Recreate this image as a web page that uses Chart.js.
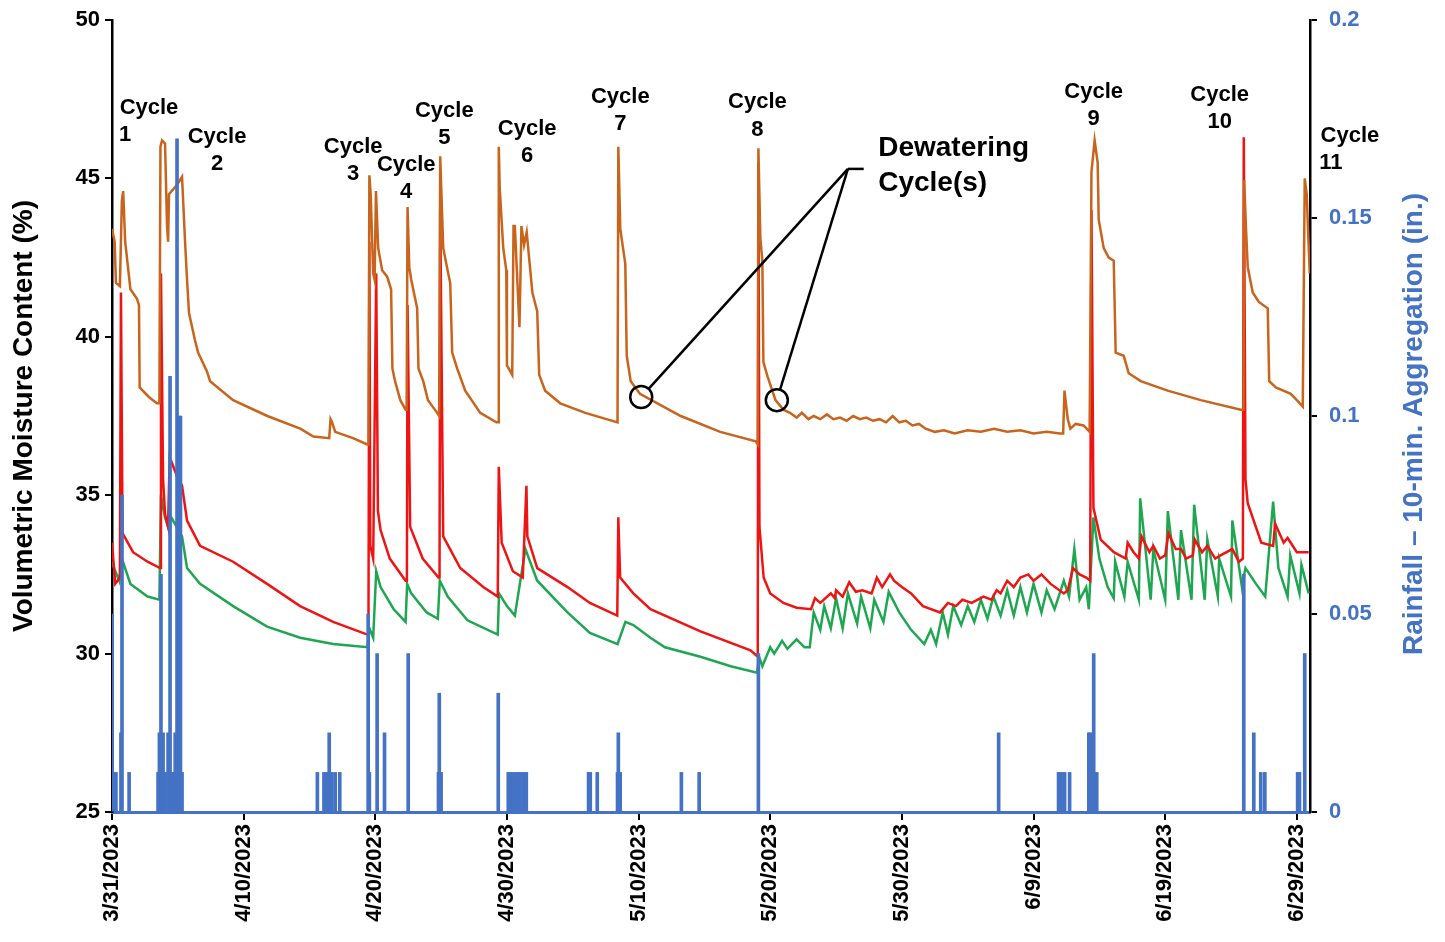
<!DOCTYPE html>
<html>
<head>
<meta charset="utf-8">
<script src="https://cdn.jsdelivr.net/npm/chart.js@4"></script>
<style>
  html, body { margin: 0; padding: 0; background: #fff; }
  #wrap { width: 1445px; height: 942px; }
</style>
</head>
<body>
<div id="wrap"><canvas id="chart" width="1445" height="942"></canvas></div>
<script>
// x values are days after 3/31/2023
const tickDays = [0, 10, 20, 30, 40, 50, 60, 70, 80, 90];
const tickLabels = ['3/31/2023', '4/10/2023', '4/20/2023', '4/30/2023', '5/10/2023',
  '5/20/2023', '5/30/2023', '6/9/2023', '6/19/2023', '6/29/2023'];
const rainTicks = [0, 0.05, 0.1, 0.15, 0.2];
const rainTickLabels = ['0', '0.05', '0.1', '0.15', '0.2'];

// orange sensor (upper)
const orangeDays = [0, 0.2, 0.3, 0.6, 0.75, 0.85, 1.0, 1.4, 1.9, 2.05, 2.1, 2.8, 3.4, 3.6,
  3.68, 3.8, 4.03, 4.18, 4.26, 4.33, 4.94, 5.32, 5.55, 5.7, 5.85, 6.3, 6.54, 7.22, 7.45, 9.2,
  11.8, 14.3, 15.3, 16.5, 16.6, 16.72, 16.95, 18.3, 19.4,
  19.48, 19.55, 19.65, 19.84, 19.95, 20.05, 20.22, 20.52, 20.9, 21.2, 21.3, 21.5, 21.9, 22.3,
  22.38, 22.45, 22.58, 22.73, 23.18, 23.28, 23.64, 24.0, 24.7,
  24.85, 24.93, 25.16, 25.54, 25.69, 25.84, 26.22, 26.83, 27.97, 29.2,
  29.33, 29.38, 29.45, 29.72, 29.95, 30.0, 30.4, 30.5, 30.6, 30.95, 31.1, 31.3, 31.5, 31.93,
  32.3, 32.45, 32.9, 34.05, 35.95, 38.4,
  38.46, 38.61, 38.99, 39.1, 39.4, 40.1, 43.2, 46.2, 48.9, 49.05,
  49.1, 49.25, 49.4, 49.48, 49.79, 50.4, 51.0, 51.5, 52.0, 52.4, 52.9, 53.3, 53.8, 54.3, 54.8,
  55.3, 55.8, 56.3, 56.8, 57.3, 57.8, 58.3, 58.8, 59.3, 59.8, 60.3, 60.8, 61.3, 61.8, 62.5,
  63.2, 64.0, 65.0, 66.0, 67.0, 68.0, 69.0, 70.0, 71.0, 72.0, 72.25, 72.35, 72.6, 72.8, 73.2,
  73.8, 74.26,
  74.4, 74.64, 74.87, 74.95, 75.33, 75.71, 76.09, 76.24, 76.85, 77.23, 78.14, 80.19, 82.7, 85.74,
  85.95, 86.0, 86.12, 86.27, 86.65, 87.11, 87.79, 87.9, 88.4, 89.54, 90.0, 90.45, 90.6, 90.75, 90.98];
const orangeVals = [43.4, 43.0, 41.7, 41.6, 44.3, 44.6, 43.0, 41.5, 41.2, 41.0, 38.4, 38.1, 37.9, 37.9,
  46.0, 46.2, 46.1, 43.5, 43.0, 44.5, 44.8, 45.05, 43.0, 41.8, 40.75, 39.9, 39.5, 38.9, 38.6, 38.0,
  37.5, 37.1, 36.85, 36.8, 37.4, 37.3, 37.0, 36.8, 36.6,
  36.6, 45.1, 44.5, 42.0, 41.8, 44.6, 42.8, 42.1, 41.9, 41.5, 39.0, 38.6, 38.0, 37.7,
  37.7, 44.1, 42.2, 41.8, 40.9, 39.0, 38.6, 38.0, 37.6,
  37.5, 45.7, 42.8, 42.0, 41.7, 39.5, 39.0, 38.3, 37.6, 37.3,
  37.3, 46.0, 44.7, 42.8, 42.1, 39.1, 38.8, 43.5, 43.5, 40.3, 43.5, 42.9, 43.3, 41.4,
  40.8, 38.8, 38.3, 37.9, 37.6, 37.3,
  46.0, 43.4, 42.3, 39.4, 38.6, 38.2, 37.5, 37.0, 36.7, 36.6,
  45.95, 43.1, 42.4, 39.2, 38.75, 38.0, 37.7, 37.6, 37.45, 37.6, 37.4, 37.5, 37.4, 37.55, 37.4,
  37.45, 37.35, 37.5, 37.4, 37.45, 37.35, 37.4, 37.3, 37.5, 37.3, 37.35, 37.2, 37.25, 37.1, 37.0,
  37.05, 36.95, 37.05, 37.0, 37.1, 37.0, 37.05, 36.95, 37.0, 36.95, 36.95, 38.3, 37.4, 37.1, 37.25,
  37.2, 37.0,
  45.2, 46.2, 45.5, 43.7, 42.8, 42.5, 42.4, 39.5, 39.4, 38.85, 38.6, 38.3, 38.0, 37.7,
  37.7, 44.95, 43.6, 42.2, 41.4, 41.1, 40.9, 38.6, 38.4, 38.2, 38.0, 37.8, 45.0, 44.5, 42.0];

// red sensor (middle)
const redDays = [0, 0.25, 0.6, 0.68, 0.8, 1.6, 2.7, 3.65, 3.72, 3.88, 4.03, 4.26, 4.38, 4.94, 5.32,
  5.7, 6.69, 9.2, 11.78, 14.29, 16.8, 19.4,
  19.48, 19.55, 19.62, 19.84, 20.07, 20.2, 20.4, 21.1, 22.3, 22.4, 22.45, 22.65, 23.6, 24.8,
  24.88, 24.93, 25.16, 26.45, 28.2, 29.3, 29.38, 29.6, 30.45, 31.2, 31.48, 31.55, 32.3, 34.6,
  36.3, 38.38, 38.46, 38.6, 39.6, 40.9, 44.7, 48.5, 49.05,
  49.1, 49.18, 49.5, 50.0, 51.0, 52.0, 53.1, 53.4, 53.8, 54.6, 54.9, 55.0, 55.5, 56.0, 56.5,
  57.0, 57.7, 58.1, 58.5, 59.1, 59.4, 60.0, 60.7, 61.6, 62.9, 63.5, 64.1, 64.6, 65.3, 66.2,
  66.8, 67.2, 67.5, 68.0, 68.5, 69.0, 69.6, 70.0, 70.6, 71.3, 72.3, 72.6, 73.0, 73.5, 74.0, 74.3,
  74.4, 74.55, 75.1, 76.1, 77.0, 77.15, 77.6, 78.0, 78.2, 78.8, 79.1, 79.6, 80.0, 80.25, 80.8,
  81.2, 81.6, 82.1, 82.25, 82.8, 83.2, 83.8, 84.2, 85.1, 85.6, 85.9,
  85.97, 86.1, 86.27, 87.3, 88.2, 88.35, 89.0, 89.3, 90.0, 90.9];
const redVals = [33.5, 32.2, 32.4, 41.4, 33.8, 33.2, 32.9, 32.7, 42.0, 35.5, 34.4, 34.0, 36.2, 35.6, 35.3,
  34.2, 33.4, 32.9, 32.2, 31.5, 31.0, 30.6,
  30.6, 43.0, 33.4, 33.0, 42.0, 34.5, 33.9, 33.0, 32.3, 32.3, 41.0, 34.0, 33.0, 32.4,
  32.4, 44.0, 33.7, 32.7, 32.1, 31.8, 35.9, 33.5, 32.6, 32.4, 35.3, 33.7, 32.7, 32.1,
  31.6, 31.2, 34.3, 32.4, 31.9, 31.4, 30.7, 30.1, 29.9,
  45.5, 34.0, 32.4, 31.9, 31.6, 31.45, 31.4, 31.75, 31.6, 31.9, 31.75, 32.0, 31.8, 32.25, 31.95,
  32.0, 31.9, 32.4, 32.1, 32.5, 32.3, 32.1, 31.9, 31.5, 31.3, 31.6, 31.5, 31.7, 31.6, 31.8,
  31.7, 32.0, 31.9, 32.3, 32.1, 32.4, 32.5, 32.3, 32.5, 32.2, 31.9, 32.0, 32.7, 32.5, 32.4, 32.3,
  44.0, 34.6, 33.6, 33.2, 33.0, 33.5, 33.2, 33.0, 33.7, 33.2, 33.4, 33.0, 33.1, 33.8, 33.3,
  33.3, 33.0, 33.1, 33.6, 33.2, 33.4, 33.0, 33.1, 33.3, 32.9, 33.0,
  46.3, 35.5, 34.75, 33.5, 33.4, 34.1, 33.5, 33.65, 33.2, 33.2];

// green sensor (lower)
const greenDays = [0, 0.15, 0.55, 0.75, 1.4, 2.7, 3.6, 3.72, 3.88, 4.03, 4.26, 4.5, 5.32, 5.7, 6.69,
  9.2, 11.78, 14.29, 16.8, 19.4, 19.55, 19.84, 20.07, 20.4, 21.4, 22.3, 22.42, 22.73, 23.9, 24.75,
  24.9, 25.5, 27.0, 29.3, 29.4, 30.0, 30.6, 31.4, 32.3, 34.6, 36.3, 38.4, 39.0, 39.6, 40.9, 42.0,
  44.7, 47.0, 49.0,
  49.15, 49.4, 50.0, 50.3, 50.9, 51.3, 52.0, 52.6, 53.0, 53.3, 53.8, 54.1, 54.6, 55.0, 55.5,
  55.9, 56.6, 56.9, 57.6, 57.9, 58.6, 59.0, 59.8, 60.7, 61.7, 62.2, 62.6, 63.1, 63.5, 63.9, 64.5,
  65.0, 65.5, 66.0, 66.5, 66.95, 67.5, 68.0, 68.5, 69.0, 69.5, 70.0, 70.6, 71.0, 71.6, 72.3,
  72.7, 73.1, 73.5, 74.0, 74.2,
  74.55, 75.0, 75.63, 76.09, 76.2, 76.9, 77.15, 78.0, 78.1, 78.9, 79.1, 80.0, 80.2, 81.0, 81.2,
  82.0, 82.2, 83.0, 83.2, 84.0, 84.1, 85.0, 85.1, 85.9, 86.0, 86.1, 86.9, 87.6, 88.2, 88.6, 89.3,
  89.5, 90.2, 90.35, 90.9];
const greenVals = [32.9, 32.7, 32.3, 33.0, 32.2, 31.8, 31.7, 35.0, 34.6, 34.3, 34.0, 34.3, 33.7, 32.7, 32.2,
  31.5, 30.85, 30.5, 30.3, 30.2, 30.8, 30.5, 32.6, 32.1, 31.4, 31.0, 32.2, 31.9, 31.3, 31.1,
  32.3, 31.8, 31.05, 30.6, 31.9, 31.5, 31.2, 33.3, 32.3, 31.3, 30.65, 30.3, 31.0, 30.9, 30.5, 30.2,
  29.9, 29.6, 29.4,
  29.9, 29.6, 30.2, 30.0, 30.4, 30.15, 30.45, 30.2, 30.2, 31.3, 30.75, 31.5, 30.8, 31.75, 30.8,
  31.9, 30.95, 31.8, 30.8, 31.7, 31.0, 31.95, 31.3, 30.75, 30.3, 30.75, 30.3, 31.3, 30.6, 31.5, 30.9,
  31.5, 31.0, 31.7, 31.1, 31.8, 31.2, 32.0, 31.2, 32.1, 31.3, 32.2, 31.3, 32.0, 31.4, 32.3,
  31.8, 33.3, 31.7, 32.1, 31.4,
  34.3, 33.0, 32.1, 31.75, 32.9, 31.8, 32.9, 31.7, 34.9, 31.7, 33.3, 31.7, 34.5, 31.7, 33.9,
  31.7, 34.7, 31.7, 33.6, 31.8, 33.0, 31.8, 34.2, 31.9, 32.5, 32.7, 32.2, 31.8, 34.8, 32.7, 31.8,
  33.1, 31.9, 32.8, 31.9];

// rainfall, 10-min aggregation (in.)
const rainDays = [0.0, 0.15, 0.3, 0.68, 0.76, 1.3, 3.5, 3.6, 3.72, 3.88, 4.03, 4.26, 4.41, 4.56, 4.7,
  4.8, 4.94, 5.1, 5.2, 5.32, 15.6, 16.1, 16.3, 16.5, 16.7, 16.95, 17.3, 19.46, 19.55, 20.14, 20.7,
  22.5, 24.8, 24.86, 25.0, 29.34, 30.1, 30.3, 30.48, 30.7, 30.86, 31.0, 31.24, 31.47, 36.2, 36.33,
  36.86, 38.4, 38.46, 38.6, 43.25, 44.6, 49.1, 67.35, 71.9, 72.13, 72.36, 72.74, 74.2, 74.3, 74.57,
  74.8, 85.97, 86.73, 87.26, 87.57, 90.06, 90.2, 90.6];
const rainVals = [0.05, 0.01, 0.01, 0.02, 0.08, 0.01, 0.01, 0.02, 0.06, 0.02, 0.01, 0.02, 0.11, 0.01, 0.01,
  0.02, 0.17, 0.1, 0.1, 0.01, 0.01, 0.01, 0.01, 0.02, 0.01, 0.01, 0.01, 0.05, 0.01, 0.04, 0.02,
  0.04, 0.01, 0.03, 0.01, 0.03, 0.01, 0.01, 0.01, 0.01, 0.01, 0.01, 0.01, 0.01, 0.01, 0.01,
  0.01, 0.01, 0.02, 0.01, 0.01, 0.01, 0.04, 0.02, 0.01, 0.01, 0.01, 0.01, 0.02, 0.02, 0.04,
  0.01, 0.06, 0.02, 0.01, 0.01, 0.01, 0.01, 0.04];

// cycle labels: "Cycle" centre and number centre, in data units
const cycleNames = ['1', '2', '3', '4', '5', '6', '7', '8', '9', '10', '11'];
const cycleDays = [2.81, 7.98, 18.32, 22.35, 25.24, 31.54, 38.61, 49.03, 74.57, 84.14, 94.03];
const cycleVals = [47.22, 46.31, 45.99, 45.42, 47.13, 46.56, 47.57, 47.41, 47.73, 47.63, 46.34];
const numDays = [0.99, 7.98, 18.32, 22.35, 25.24, 31.54, 38.61, 49.03, 74.57, 84.14, 92.58];
const numVals = [46.37, 45.45, 45.14, 44.57, 46.28, 45.71, 46.72, 46.53, 46.87, 46.78, 45.49];

// dewatering callout
const calloutCircles = [[40.2, 38.1], [50.5, 38.0]];
const calloutJoin = [55.9, 45.3];
const calloutEnd = 57.1;
const calloutText = ['Dewatering', 'Cycle(s)'];
const calloutTextAt = [58.2, 45.95, 44.85];

const FONT = '"Liberation Sans", Arial, sans-serif';
const BLUE = '#4472c4';

function pts(days, vals) {
  return days.map((d, i) => ({ x: d, y: vals[i] }));
}

// no extra label padding on the vertical axes, the layout padding sets the top
function noPad(s) {
  s.paddingTop = 0;
  s.paddingBottom = 0;
}

const annotate = {
  id: 'annotate',
  afterDatasetsDraw(chart) {
    const { ctx } = chart;
    const x = chart.scales.x, y = chart.scales.y;
    ctx.save();
    ctx.fillStyle = '#000';
    ctx.textAlign = 'center';
    ctx.textBaseline = 'middle';
    ctx.font = 'bold 22px ' + FONT;
    cycleNames.forEach((n, i) => {
      ctx.fillText('Cycle', x.getPixelForValue(cycleDays[i]), y.getPixelForValue(cycleVals[i]));
      ctx.fillText(n, x.getPixelForValue(numDays[i]), y.getPixelForValue(numVals[i]));
    });

    // callout
    const jx = x.getPixelForValue(calloutJoin[0]), jy = y.getPixelForValue(calloutJoin[1]);
    const r = 11;
    ctx.strokeStyle = '#000';
    ctx.lineWidth = 2.5;
    ctx.beginPath();
    ctx.moveTo(jx, jy);
    ctx.lineTo(x.getPixelForValue(calloutEnd), jy);
    ctx.stroke();
    calloutCircles.forEach(([d, v]) => {
      const cx = x.getPixelForValue(d), cy = y.getPixelForValue(v);
      const ang = Math.atan2(jy - cy, jx - cx);
      ctx.beginPath();
      ctx.moveTo(jx, jy);
      ctx.lineTo(cx + r * Math.cos(ang), cy + r * Math.sin(ang));
      ctx.stroke();
      ctx.beginPath();
      ctx.arc(cx, cy, r, 0, Math.PI * 2);
      ctx.stroke();
    });
    ctx.font = 'bold 28px ' + FONT;
    ctx.textAlign = 'left';
    const tx = x.getPixelForValue(calloutTextAt[0]);
    ctx.fillText(calloutText[0], tx, y.getPixelForValue(calloutTextAt[1]));
    ctx.fillText(calloutText[1], tx, y.getPixelForValue(calloutTextAt[2]));

    // axis titles, both read bottom to top
    const midY = (chart.chartArea.top + chart.chartArea.bottom) / 2;
    ctx.textAlign = 'center';
    ctx.save();
    ctx.translate(24, midY);
    ctx.rotate(-Math.PI / 2);
    ctx.fillStyle = '#000';
    ctx.fillText('Volumetric Moisture Content (%)', 0, 0);
    ctx.restore();
    ctx.save();
    ctx.translate(1414, midY + 8);
    ctx.rotate(-Math.PI / 2);
    ctx.fillStyle = BLUE;
    ctx.fillText('Rainfall \u2013 10-min. Aggregation (in.)', 0, 0);
    ctx.restore();
    ctx.restore();
  }
};

new Chart(document.getElementById('chart'), {
  type: 'line',
  data: {
    datasets: [
      {
        type: 'bar',
        label: 'Rainfall',
        data: pts(rainDays, rainVals),
        backgroundColor: BLUE,
        barThickness: 3,
        yAxisID: 'yR',
        order: 0
      },
      {
        label: 'Orange',
        data: pts(orangeDays, orangeVals),
        borderColor: '#c8641c',
        borderWidth: 2.5,
        yAxisID: 'y',
        order: 1
      },
      {
        label: 'Red',
        data: pts(redDays, redVals),
        borderColor: '#ee1414',
        borderWidth: 2.5,
        yAxisID: 'y',
        order: 2
      },
      {
        label: 'Green',
        data: pts(greenDays, greenVals),
        borderColor: '#1fa650',
        borderWidth: 2.5,
        yAxisID: 'y',
        order: 3
      }
    ]
  },
  options: {
    responsive: false,
    animation: false,
    devicePixelRatio: 1,
    layout: { padding: { top: 20, left: 0, right: 0, bottom: 0 } },
    elements: { point: { radius: 0 }, line: { tension: 0 } },
    plugins: { legend: { display: false }, tooltip: { enabled: false } },
    scales: {
      x: {
        type: 'linear',
        min: 0,
        max: 91,
        offset: false,
        afterBuildTicks: (s) => { s.ticks = tickDays.map((v) => ({ value: v })); },
        afterFit: (s) => { s.height = 130; s.paddingLeft = 0; s.paddingRight = 0; },
        ticks: {
          autoSkip: false,
          minRotation: 90,
          maxRotation: 90,
          padding: 4,
          color: '#000',
          font: { family: FONT, size: 22, weight: 'bold' },
          callback: (v, i) => tickLabels[i]
        },
        grid: { offset: false, drawOnChartArea: false, tickLength: 8, color: '#000', lineWidth: 2 },
        border: { color: BLUE, width: 3 }
      },
      y: {
        position: 'left',
        min: 25,
        max: 50,
        ticks: {
          stepSize: 5,
          padding: 5,
          color: '#000',
          font: { family: FONT, size: 22, weight: 'bold' }
        },
        afterFit: (s) => { s.width = 112; noPad(s); },
        grid: { drawOnChartArea: false, tickLength: 7, color: '#000', lineWidth: 2 },
        border: { color: '#000', width: 2.5 }
      },
      yR: {
        position: 'right',
        min: 0,
        max: 0.2,
        afterBuildTicks: (s) => { s.ticks = rainTicks.map((v) => ({ value: v })); },
        ticks: {
          padding: 12,
          color: BLUE,
          font: { family: FONT, size: 22, weight: 'bold' },
          callback: (v, i) => rainTickLabels[i]
        },
        afterFit: (s) => { s.width = 135; noPad(s); },
        grid: { drawOnChartArea: false, tickLength: 7, color: '#000', lineWidth: 2 },
        border: { color: '#000', width: 2.5 }
      }
    }
  },
  plugins: [annotate]
});
</script>
</body>
</html>
